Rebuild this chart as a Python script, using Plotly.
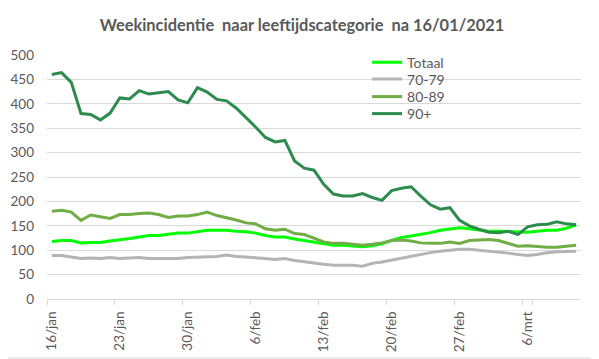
import plotly.graph_objects as go

dates = ([f"{d}/jan" for d in range(16, 32)]
         + [f"{d}/feb" for d in range(1, 29)]
         + [f"{d}/mrt" for d in range(1, 12)])

totaal = [118, 120, 120, 115, 116, 116, 119, 121, 124, 127, 130, 130, 132, 135, 135,
          138, 141, 141, 141, 139, 138, 135, 130, 127, 127, 123, 120, 117, 113, 110,
          110, 108, 107, 109, 113, 120, 126, 129, 132, 136, 141, 143, 146, 144, 141,
          139, 139, 138, 137, 137, 139, 141, 141, 145, 152]
age_70_79 = [89, 89, 86, 83, 84, 83, 85, 83, 84, 85, 83, 83, 83, 83, 85,
             86, 87, 87, 90, 87, 86, 85, 83, 81, 83, 79, 76, 73, 71, 69,
             69, 69, 67, 73, 76, 80, 84, 88, 91, 95, 98, 100, 102, 102, 100,
             98, 97, 94, 91, 89, 91, 95, 97, 98, 98]
age_80_89 = [180, 182, 178, 161, 172, 169, 165, 173, 173, 175, 176, 173, 167, 170, 170,
             173, 178, 171, 167, 162, 156, 154, 144, 141, 143, 134, 132, 124, 117, 114,
             114, 112, 110, 112, 115, 120, 121, 119, 115, 114, 114, 117, 114, 120, 121,
             122, 120, 114, 108, 109, 107, 106, 106, 108, 110]
age_90p = [460, 464, 444, 380, 378, 367, 381, 412, 410, 427, 420, 422, 425, 408, 402,
           433, 424, 409, 406, 391, 372, 352, 331, 322, 325, 283, 268, 264, 235, 215,
           211, 211, 216, 208, 202, 222, 227, 230, 211, 193, 184, 187, 161, 150, 143,
           137, 136, 139, 132, 148, 152, 153, 158, 154, 152]

series_names = ["Totaal", "70-79", "80-89", "90+"]
series_values = [totaal, age_70_79, age_80_89, age_90p]
series_colors = ["#00FF00", "#B4B4B4", "#70AD47", "#2E8B4E"]

title_text = "Weekincidentie  naar leeftijdscategorie  na 16/01/2021"
tick_labels = dates[::7]
y_ticks = list(range(0, 501, 50))

# The page body has an 8px margin, so lay out in window pixels and shift.
OFF = 8
WIN_W, WIN_H = 599, 359
W, H = WIN_W - OFF, WIN_H - OFF
plot_left, plot_right, plot_top, plot_bottom = 47.3, 580.7, 55, 299
ml = plot_left - OFF
mr = WIN_W - plot_right
mt = plot_top - OFF
mb = WIN_H - plot_bottom
pw, ph = W - ml - mr, H - mt - mb

legend_ids = ["legend", "legend2", "legend3", "legend4"]
legend_rows_px = [62.7, 79.5, 97, 114]
legend_left_px = 367

fig = go.Figure()
for name, vals, col, lid in zip(series_names, series_values, series_colors, legend_ids):
    fig.add_trace(go.Scatter(x=dates, y=vals, name=name, mode="lines", legend=lid,
                             line=dict(color=col, width=3)))

legend_layout = {}
for lid, yc in zip(legend_ids, legend_rows_px):
    legend_layout[lid] = dict(x=(legend_left_px - plot_left) / pw,
                              y=(plot_bottom - yc) / ph,
                              xanchor="left", yanchor="middle",
                              bgcolor="rgba(0,0,0,0)", borderwidth=0,
                              font=dict(family="Lato", size=14, color="#595959"),
                              itemwidth=30)

fig.update_layout(
    width=W, height=H,
    margin=dict(l=ml, r=mr, t=mt, b=mb, pad=0, autoexpand=False),
    paper_bgcolor="white", plot_bgcolor="white",
    font=dict(family="Lato", size=13, color="#595959"),
    title=dict(text="<b>" + title_text + "</b>", x=(302 - OFF) / W, xref="container",
               y=1 - (25 - OFF) / H, yref="container", xanchor="center",
               yanchor="middle",
               font=dict(family="Lato", size=16.4, color="#595959")),
    showlegend=True,
    xaxis=dict(type="category", categoryorder="array", categoryarray=dates,
               range=[-0.5, len(dates) - 0.5],
               tickmode="array", tickvals=tick_labels, ticktext=tick_labels,
               tickson="boundaries", ticks="outside", ticklen=5, tickcolor="#D9D9D9",
               tickangle=-90, showgrid=False, showline=True, linecolor="#D9D9D9",
               linewidth=1, ticklabelstandoff=6, tickfont=dict(size=13.5)),
    yaxis=dict(range=[0, 500], tickvals=y_ticks, showgrid=True, gridcolor="#D9D9D9",
               gridwidth=1, zeroline=False, showline=False, ticks="",
               ticklabelstandoff=12, tickfont=dict(size=13.5)),
    shapes=[dict(type="line", xref="paper", yref="paper",
                 x0=1 + (mr - 1) / pw, x1=1 + (mr - 1) / pw,
                 y0=-(mb - 1) / ph, y1=1 + mt / ph,
                 line=dict(color="#D9D9D9", width=1), layer="below"),
            dict(type="line", xref="paper", yref="paper",
                 x0=-ml / pw, x1=1 + (mr - 1) / pw,
                 y0=-(mb - 1) / ph, y1=-(mb - 1) / ph,
                 line=dict(color="#D9D9D9", width=1), layer="below")],
    **legend_layout,
)

fig.write_html("out.html")
